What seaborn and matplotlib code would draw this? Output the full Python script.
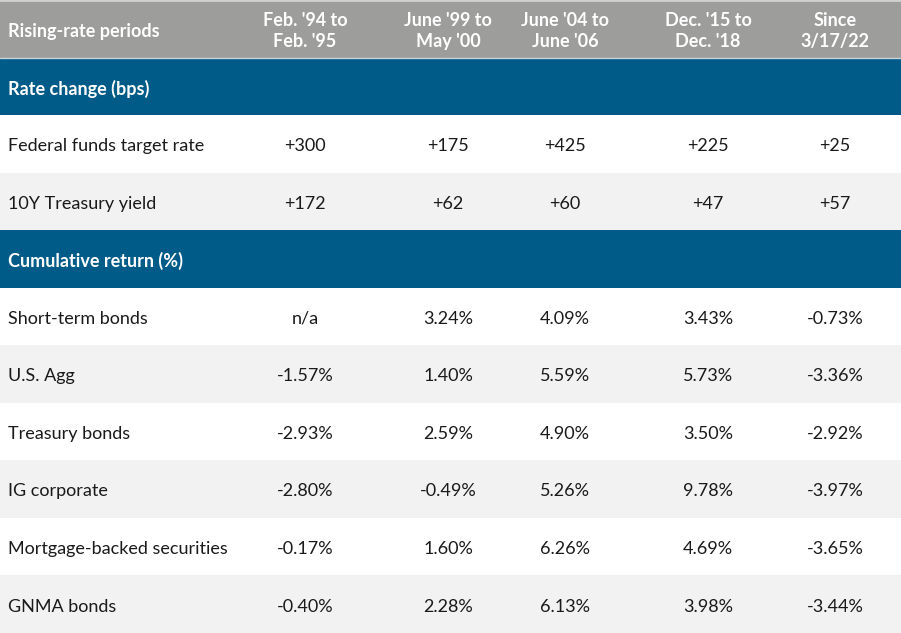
import numpy as np
import pandas as pd
import seaborn as sns
import matplotlib.pyplot as plt
from matplotlib.colors import ListedColormap

sns.set_theme(style="white")
plt.rcParams['font.family'] = ['Lato', 'DejaVu Sans']

periods = ["Feb. '94 to\nFeb. '95", "June '99 to\nMay '00", "June '04 to\nJune '06",
           "Dec. '15 to\nDec. '18", "Since\n3/17/22"]

rate_rows = ["Federal funds target rate", "10Y Treasury yield"]
fed_funds = ["+300", "+175", "+425", "+225", "+25"]
treasury_10y = ["+172", "+62", "+60", "+47", "+57"]

return_rows = ["Short-term bonds", "U.S. Agg", "Treasury bonds", "IG corporate",
               "Mortgage-backed securities", "GNMA bonds"]
short_term = ["n/a", "3.24%", "4.09%", "3.43%", "-0.73%"]
us_agg = ["-1.57%", "1.40%", "5.59%", "5.73%", "-3.36%"]
treasury = ["-2.93%", "2.59%", "4.90%", "3.50%", "-2.92%"]
ig_corp = ["-2.80%", "-0.49%", "5.26%", "9.78%", "-3.97%"]
mbs = ["-0.17%", "1.60%", "6.26%", "4.69%", "-3.65%"]
gnma = ["-0.40%", "2.28%", "6.13%", "3.98%", "-3.44%"]

# row list: (label, values, kind) kind: 3 header, 2 section band, 0 white, 1 shaded
rows = [("Rising-rate periods", periods, 3),
        ("Rate change (bps)", None, 2),
        (rate_rows[0], fed_funds, 0),
        (rate_rows[1], treasury_10y, 1),
        ("Cumulative return (%)", None, 2)]
for i, (lab, vals) in enumerate(zip(return_rows, [short_term, us_agg, treasury, ig_corp, mbs, gnma])):
    rows.append((lab, vals, i % 2))

kinds = pd.DataFrame({"kind": [r[2] for r in rows]})
cmap = ListedColormap(["#ffffff", "#f2f2f2", "#005b88", "#9d9d9c"])

fig = plt.figure(figsize=(9.01, 6.33), dpi=100)
ax = fig.add_axes([0, 0, 1, 1])
sns.heatmap(kinds, cmap=cmap, vmin=-0.5, vmax=3.5, cbar=False, ax=ax,
            xticklabels=False, yticklabels=False)

col_x = [305 / 901, 448 / 901, 565 / 901, 708 / 901, 835 / 901]
for i, (lab, vals, kind) in enumerate(rows):
    yc = i + 0.54
    white = kind >= 2
    ax.text(8 / 901, yc, lab, ha="left", va="center", fontsize=13,
            color="white" if white else "#1a1a1a",
            fontweight="bold" if white else "normal", transform=ax.get_yaxis_transform())
    if vals is None:
        continue
    for x, v in zip(col_x, vals):
        ax.text(x, yc, v, ha="center", va="center", fontsize=13,
                color="white" if white else "#1a1a1a",
                fontweight="bold" if white else "normal",
                linespacing=1.25, transform=ax.get_yaxis_transform())

ax.axhline(1, color="#c8d3dc", lw=1)
ax.axhline(0, color="#d0d0d0", lw=2)
ax.set_axis_off()
plt.savefig("out.png", dpi=100)
